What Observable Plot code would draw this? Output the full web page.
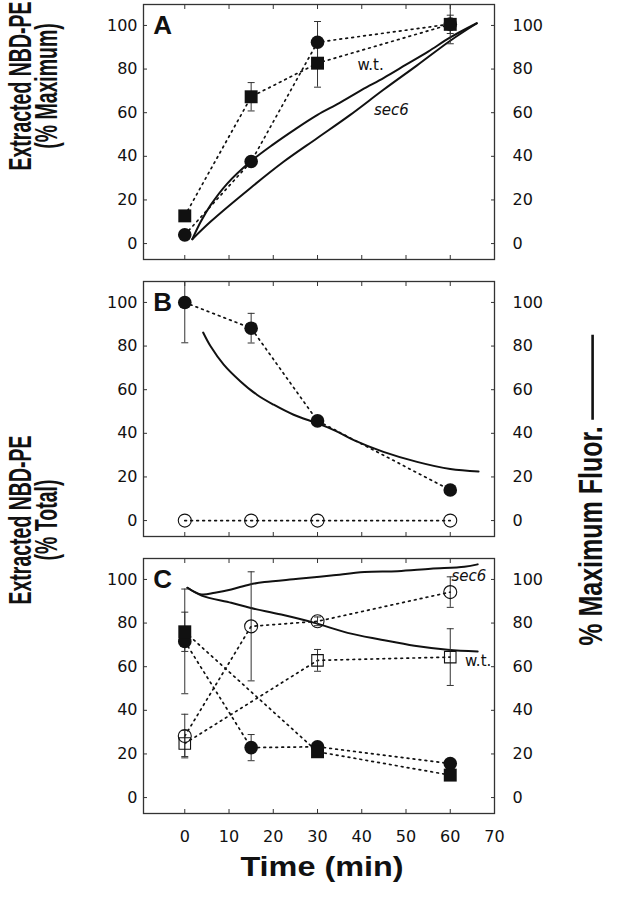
<!DOCTYPE html>
<html><head><meta charset="utf-8">
<script src="https://cdn.jsdelivr.net/npm/d3@7"></script>
<script src="https://cdn.jsdelivr.net/npm/@observablehq/plot@0.6"></script>
<style>
body{margin:0;background:#fff;}
#wrap{position:relative;width:624px;height:899px;overflow:hidden;background:#fff;}
#wrap svg{position:absolute;left:0;top:0;}
.lab{position:absolute;white-space:nowrap;text-align:center;color:#111;font-family:"Liberation Sans",Arial,sans-serif;font-weight:bold;}
.dash{display:inline-block;width:85px;border-top:2px solid #111;vertical-align:middle;margin-left:7px;}
</style></head><body><div id="wrap"></div>
<script>
// ---------- data ----------
const panels = ["A", "B", "C"];
const times = [0, 15, 30, 60];
const timesC = [0, 30, 60];
const xTicks = [0, 10, 20, 30, 40, 50, 60, 70];
const yTicks = [0, 20, 40, 60, 80, 100];

// Panel A (% Maximum)
const aCircle = [4, 37.6, 92.3, 100.6];
const aCircleErr = [0, 0, 9.5, 9];
const aSquare = [12.7, 67.3, 82.7, 100.5];
const aSquareErr = [0, 6.5, 11, 4.2];
const aWtT = [1.7, 3.6, 5.8, 9.6, 14.8, 20, 25, 30, 35, 40, 45, 50, 55, 60, 66];
const aWtV = [2, 10, 17.5, 27.5, 37.5, 45.5, 52.5, 59, 64.5, 70.5, 76, 82, 88, 94.5, 101];
const aSec6T = [1.7, 5.8, 14.8, 22.4, 29.9, 37.4, 44.9, 52.5, 60, 66];
const aSec6V = [2, 10, 25.4, 37.6, 48.3, 59, 70.5, 81.7, 93, 101];

// Panel B (% Total)
const bFilled = [100, 88.2, 45.7, 14];
const bFilledErr = [18.5, 6.8, 0, 0];
const bOpen = [0, 0, 0, 0];
const bCurveT = [4.15, 5.8, 8.8, 12.6, 16.3, 20.1, 24.6, 29.9, 33.7, 38.2, 44.9, 52.5, 60, 66.4];
const bCurveV = [86.2, 80, 71.5, 63.8, 57.7, 53.1, 48.5, 44.6, 41.5, 36.9, 31.5, 26.9, 23.6, 22.5];

// Panel C (% Total)
const cFilledCircle = [71.6, 22.9, 23.3, 15.6];
const cFilledCircleErr = [24, 6, 0, 0];
const cFilledSquare = [76, 21, 10.3];
const cFilledSquareErr = [9, 0, 0];
const cOpenCircle = [28.2, 78.5, 80.8, 94.2];
const cOpenCircleErr = [10, 25, 2, 7];
const cOpenSquare = [24.8, 62.9, 64.4];
const cOpenSquareErr = [6, 5, 13];
const cSec6T = [0.6, 3.8, 6.8, 10.5, 14.7, 18, 25.6, 33.1, 40.6, 48.1, 55.6, 63.2, 66.2];
const cSec6V = [96.2, 93.1, 93.9, 95.4, 97.7, 98.8, 100.3, 101.8, 103.4, 103.8, 104.9, 105.8, 106.9];
const cWtT = [0.6, 3.8, 10.5, 14.7, 21.8, 29.3, 36.8, 44.4, 51.9, 59.4, 66.2];
const cWtV = [96.2, 92.6, 89.3, 87, 83.9, 80.1, 75.5, 72.4, 69.6, 67.8, 67];

// labels
const panelLetters = [{panel: "A", t: -5, v: 100, text: "A"}, {panel: "B", t: -5, v: 100, text: "B"}, {panel: "C", t: -5, v: 100, text: "C"}];
const curveLabels = [
  {panel: "A", t: 42, v: 82, text: "w.t.", italic: false},
  {panel: "A", t: 46.7, v: 61.3, text: "sec6", italic: true},
  {panel: "C", t: 64.2, v: 101.5, text: "sec6", italic: true},
  {panel: "C", t: 66.3, v: 62.4, text: "w.t.", italic: false}
];

// ---------- build tables ----------
function series(panel, kind, ts, vs, errs) {
  return ts.map((t, i) => ({panel, kind, id: panel + kind, t, v: vs[i], err: errs ? errs[i] : 0}));
}
const points = [
  ...series("A", "fc", times, aCircle, aCircleErr),
  ...series("A", "fs", times, aSquare, aSquareErr),
  ...series("B", "fc", times, bFilled, bFilledErr),
  ...series("B", "oc", times, bOpen, null),
  ...series("C", "fc", times, cFilledCircle, cFilledCircleErr),
  ...series("C", "fs", timesC, cFilledSquare, cFilledSquareErr),
  ...series("C", "oc", times, cOpenCircle, cOpenCircleErr),
  ...series("C", "os", timesC, cOpenSquare, cOpenSquareErr)
];
const curves = [
  ...series("A", "wt", aWtT, aWtV, null),
  ...series("A", "sec6", aSec6T, aSec6V, null),
  ...series("B", "fl", bCurveT, bCurveV, null),
  ...series("C", "sec6", cSec6T, cSec6V, null),
  ...series("C", "wt", cWtT, cWtV, null)
];
const errPts = points.filter(d => d.err > 0);
const capSymbol = {draw(ctx) { ctx.moveTo(-3.5, 0); ctx.lineTo(3.5, 0); }};
const ink = "#111";
const tickFont = "DejaVu Sans, sans-serif";

const chart = Plot.plot({
  width: 624, height: 899,
  marginTop: 3, marginBottom: 84, marginLeft: 143, marginRight: 130,
  style: {fontFamily: tickFont, background: "transparent", color: ink},
  x: {domain: [-9.33, 70], label: null},
  y: {domain: [-7.3, 109.6], label: null},
  fy: {domain: panels, axis: null, paddingInner: 0.079, paddingOuter: 0},
  marks: [
    Plot.frame({stroke: "#333", strokeWidth: 1.3}),
    Plot.axisY({anchor: "left", ticks: yTicks, tickSize: -4, tickPadding: 10, fontSize: 16, label: null, stroke: "#333"}),
    Plot.axisY({anchor: "right", ticks: yTicks, tickSize: -4, tickPadding: 22, fontSize: 16, label: null, stroke: "#333"}),
    Plot.axisX({anchor: "bottom", ticks: xTicks.slice(0, 7), tickSize: -4, tickFormat: () => "", label: null, facetAnchor: null, stroke: "#333"}),
    Plot.axisX({anchor: "top", ticks: xTicks.slice(0, 7), tickSize: -4, tickFormat: () => "", label: null, facetAnchor: null, stroke: "#333"}),
    Plot.axisX({anchor: "bottom", ticks: xTicks, tickSize: 0, tickPadding: 17, fontSize: 16, label: null}),
    Plot.line(curves, {x: "t", y: "v", z: "id", fy: "panel", stroke: ink, strokeWidth: 2, curve: "catmull-rom"}),
    Plot.line(points, {x: "t", y: "v", z: "id", fy: "panel", stroke: ink, strokeWidth: 1.7, strokeDasharray: "1.7,4.3"}),
    Plot.ruleX(errPts, {x: "t", y1: d => d.v - d.err, y2: d => d.v + d.err, fy: "panel", stroke: "#333", strokeWidth: 1, clip: true}),
    Plot.dot(errPts, {x: "t", y: d => d.v + d.err, fy: "panel", symbol: capSymbol, stroke: "#333", strokeWidth: 1, clip: true}),
    Plot.dot(errPts, {x: "t", y: d => d.v - d.err, fy: "panel", symbol: capSymbol, stroke: "#333", strokeWidth: 1, clip: true}),
    Plot.dot(points.filter(d => d.kind === "fc"), {x: "t", y: "v", fy: "panel", r: 6.8, fill: ink}),
    Plot.dot(points.filter(d => d.kind === "fs"), {x: "t", y: "v", fy: "panel", symbol: "square", r: 7.3, fill: ink}),
    Plot.dot(points.filter(d => d.kind === "oc"), {x: "t", y: "v", fy: "panel", r: 6.5, fill: "none", stroke: ink, strokeWidth: 1.1}),
    Plot.dot(points.filter(d => d.kind === "os"), {x: "t", y: "v", fy: "panel", symbol: "square", r: 6.5, fill: "none", stroke: ink, strokeWidth: 1.1}),
    Plot.text(panelLetters, {x: "t", y: "v", fy: "panel", text: "text", fontSize: 26, fontWeight: "bold", fill: ink, fontFamily: "Liberation Sans, Arial, sans-serif"}),
    Plot.text(curveLabels.filter(d => !d.italic), {x: "t", y: "v", fy: "panel", text: "text", fontSize: 15, fill: ink}),
    Plot.text(curveLabels.filter(d => d.italic), {x: "t", y: "v", fy: "panel", text: "text", fontSize: 15, fontStyle: "italic", fill: ink})
  ]
});

const wrap = document.getElementById("wrap");
wrap.appendChild(chart);

function addLabel(html, cx, cy, size, lh, sx, sy, extra) {
  const el = document.createElement("div");
  el.className = "lab";
  el.innerHTML = html;
  el.style.left = cx + "px";
  el.style.top = cy + "px";
  el.style.fontSize = size + "px";
  el.style.lineHeight = lh;
  el.style.transform = `translate(-50%,-50%) ${extra || ""} scale(${sx},${sy})`;
  wrap.appendChild(el);
}
addLabel("Extracted NBD-PE<br>(% Maximum)", 33, 86, 19.5, "16px", 1, 1.6, "rotate(-90deg)");
addLabel("Extracted NBD-PE<br>(% Total)", 33, 520, 19.5, "16px", 1, 1.6, "rotate(-90deg)");
addLabel("% Maximum Fluor.<span class='dash'></span>", 590, 490, 25, "22px", 1, 1.3, "rotate(-90deg)");
addLabel("Time (min)", 322, 867, 27, "30px", 1.2, 1, "");
</script></body></html>
